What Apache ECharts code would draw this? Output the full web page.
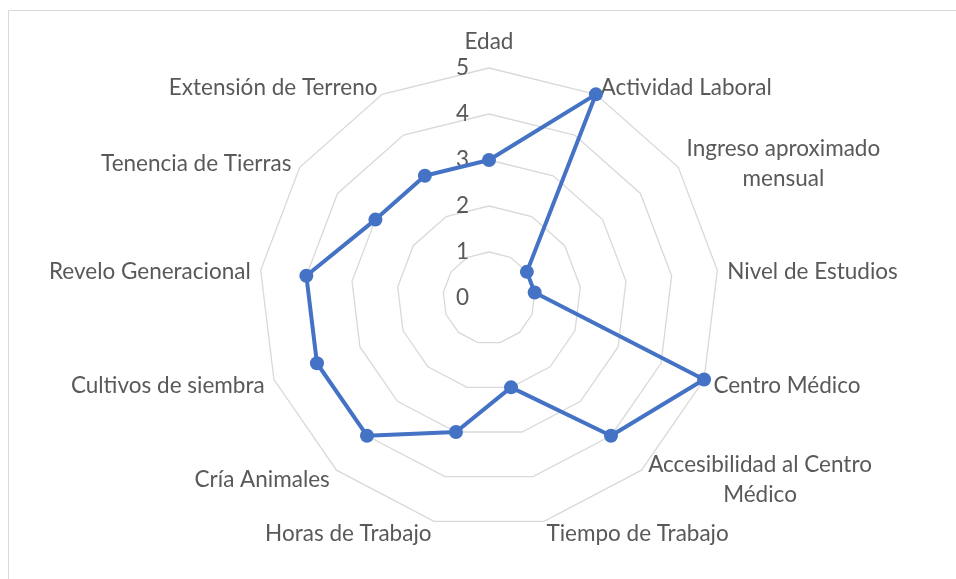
<!DOCTYPE html>
<html>
<head>
<meta charset="utf-8">
<script src="https://cdn.jsdelivr.net/npm/echarts@6/dist/echarts.min.js"></script>
<style>
  html, body { margin: 0; padding: 0; background: #ffffff; }
  #chart { width: 956px; height: 579px; }
</style>
</head>
<body>
<div id="chart"></div>
<script>
// Radar categories, listed clockwise starting from the top axis
const categories = [
  'Edad',
  'Actividad Laboral',
  'Ingreso aproximado\nmensual',
  'Nivel de Estudios',
  'Centro Médico',
  'Accesibilidad al Centro\nMédico',
  'Tiempo de Trabajo',
  'Horas de Trabajo',
  'Cría Animales',
  'Cultivos de siembra',
  'Revelo Generacional',
  'Tenencia de Tierras',
  'Extensión de Terreno'
];

// Score for each category (same order as above)
const values = [3, 5, 1, 1, 5, 4, 2, 3, 4, 4, 4, 3, 3];

// Scale of the radial axis
const axisMin = 0;
const axisMax = 5;
const axisSteps = 5;

// ECharts lays indicators out counter-clockwise, so keep the first one on top
// and walk the rest backwards to get a clockwise arrangement.
const order = [0].concat(categories.slice(1).map((_, i) => categories.length - 1 - i));

const FONT = 'Lato, "Open Sans", sans-serif';
const FONT_SIZE = 22.5;
const TEXT_COLOR = '#595959';
const GRID_COLOR = '#d9d9d9';
const LINE_COLOR = '#4472C4';

const indicator = order.map((idx, k) => {
  const item = { name: categories[idx], min: axisMin, max: axisMax };
  if (k === 0) {
    item.axisLabel = {
      show: true,
      color: TEXT_COLOR,
      fontFamily: FONT,
      fontSize: FONT_SIZE,
      margin: 20,
      padding: [5, 0, 0, 0]
    };
  }
  return item;
});

const chart = echarts.init(document.getElementById('chart'), null, { renderer: 'canvas' });

chart.setOption({
  backgroundColor: '#ffffff',
  animation: false,
  graphic: [{
    type: 'rect',
    shape: { x: 8.5, y: 10.5, width: 1200, height: 1200 },
    style: { fill: 'none', stroke: GRID_COLOR, lineWidth: 1 },
    silent: true
  }],
  radar: {
    center: [489, 298],
    radius: 230,
    startAngle: 90,
    splitNumber: axisSteps,
    shape: 'polygon',
    nameGap: 10,
    axisName: {
      color: TEXT_COLOR,
      fontFamily: FONT,
      fontSize: FONT_SIZE,
      lineHeight: 30,
      padding: [5, 0, 0, 0],
      formatter: function (name) {
        return name.split('\n').map(line => '{c|' + line + '}').join('\n');
      },
      rich: {
        c: {
          align: 'center',
          color: TEXT_COLOR,
          fontFamily: FONT,
          fontSize: FONT_SIZE,
          lineHeight: 30
        }
      }
    },
    axisLine: { show: false },
    axisTick: { show: false },
    axisLabel: { show: false },
    splitLine: { lineStyle: { color: GRID_COLOR, width: 1.3 } },
    splitArea: { show: false },
    indicator: indicator
  },
  series: [{
    type: 'radar',
    symbol: 'circle',
    symbolSize: 14,
    itemStyle: { color: LINE_COLOR },
    lineStyle: { color: LINE_COLOR, width: 4 },
    data: [{ value: order.map(idx => values[idx]), name: 'Serie 1' }]
  }]
});
</script>
</body>
</html>
